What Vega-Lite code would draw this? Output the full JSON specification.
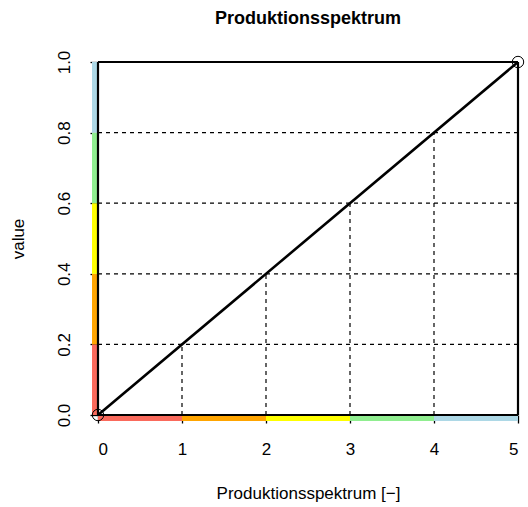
{
  "$schema": "https://vega.github.io/schema/vega-lite/v6.json",
  "width": 420,
  "height": 353,
  "autosize": {"type": "none"},
  "padding": {"left": 98, "top": 62, "right": 10, "bottom": 92},
  "background": "white",
  "config": {
    "view": {"stroke": null},
    "font": "Liberation Sans",
    "axis": {"grid": false, "domain": false, "tickColor": "black", "tickWidth": 1.3, "tickSize": 8, "labelColor": "black", "labelFont": "Liberation Sans", "labelFontSize": 17, "titleFont": "Liberation Sans", "titleFontSize": 17, "titleFontWeight": "normal", "titleColor": "black"}
  },
  "title": {"text": "Produktionsspektrum", "font": "Liberation Sans", "fontSize": 18, "fontWeight": "bold", "anchor": "middle", "offset": 22, "color": "black"},
  "datasets": {
    "leftSeg": [
      {"lo": 0, "hi": 0.2, "col": "#FA6A5C"},
      {"lo": 0.2, "hi": 0.4, "col": "#FFA500"},
      {"lo": 0.4, "hi": 0.6, "col": "#FFFF00"},
      {"lo": 0.6, "hi": 0.8, "col": "#90EE90"},
      {"lo": 0.8, "hi": 1.0, "col": "#ADD8E6"}
    ],
    "bottomSeg": [
      {"lo": 0, "hi": 1, "col": "#FA6A5C"},
      {"lo": 1, "hi": 2, "col": "#FFA500"},
      {"lo": 2, "hi": 3, "col": "#FFFF00"},
      {"lo": 3, "hi": 4, "col": "#90EE90"},
      {"lo": 4, "hi": 5, "col": "#ADD8E6"}
    ],
    "hdash": [
      {"y": 0.2, "x0": 0, "x1": 5},
      {"y": 0.4, "x0": 0, "x1": 5},
      {"y": 0.6, "x0": 0, "x1": 5},
      {"y": 0.8, "x0": 0, "x1": 5}
    ],
    "vdash": [
      {"x": 1, "y0": 0, "y1": 0.2},
      {"x": 2, "y0": 0, "y1": 0.4},
      {"x": 3, "y0": 0, "y1": 0.6},
      {"x": 4, "y0": 0, "y1": 0.8}
    ],
    "box": [
      {"x0": 0, "y0": 0, "x1": 5, "y1": 0},
      {"x0": 0, "y0": 0, "x1": 0, "y1": 1},
      {"x0": 0, "y0": 1, "x1": 5, "y1": 1},
      {"x0": 5, "y0": 0, "x1": 5, "y1": 1}
    ],
    "curve": [
      {"x": 0, "value": 0},
      {"x": 5, "value": 1}
    ]
  },
  "layer": [
    {
      "data": {"name": "leftSeg"},
      "mark": {"type": "rule", "strokeWidth": 6, "xOffset": -3},
      "encoding": {
        "x": {"datum": 0, "type": "quantitative", "scale": {"domain": [0, 5], "nice": false}, "axis": {"values": [0, 1, 2, 3, 4, 5], "format": "d", "title": "Produktionsspektrum [−]", "labelPadding": 18, "titlePadding": 28}},
        "y": {"field": "lo", "type": "quantitative", "scale": {"domain": [0, 1], "nice": false}, "axis": {"values": [0, 0.2, 0.4, 0.6, 0.8, 1.0], "format": ".1f", "title": "value", "labelAngle": -90, "labelAlign": "center", "labelBaseline": "bottom", "labelPadding": 17, "titlePadding": 28}},
        "y2": {"field": "hi"},
        "color": {"field": "col", "type": "nominal", "scale": null}
      }
    },
    {
      "data": {"name": "bottomSeg"},
      "mark": {"type": "rule", "strokeWidth": 6, "yOffset": 3},
      "encoding": {
        "x": {"field": "lo", "type": "quantitative"},
        "x2": {"field": "hi"},
        "y": {"datum": 0, "type": "quantitative"},
        "color": {"field": "col", "type": "nominal", "scale": null}
      }
    },
    {
      "data": {"name": "hdash"},
      "mark": {"type": "rule", "strokeWidth": 1.2, "strokeDash": [4, 4], "color": "black"},
      "encoding": {
        "x": {"field": "x0", "type": "quantitative"},
        "x2": {"field": "x1"},
        "y": {"field": "y", "type": "quantitative"}
      }
    },
    {
      "data": {"name": "vdash"},
      "mark": {"type": "rule", "strokeWidth": 1.2, "strokeDash": [4, 4], "color": "black"},
      "encoding": {
        "x": {"field": "x", "type": "quantitative"},
        "y": {"field": "y0", "type": "quantitative"},
        "y2": {"field": "y1"}
      }
    },
    {
      "data": {"name": "box"},
      "mark": {"type": "rule", "strokeWidth": 2.2, "color": "black"},
      "encoding": {
        "x": {"field": "x0", "type": "quantitative"},
        "x2": {"field": "x1"},
        "y": {"field": "y0", "type": "quantitative"},
        "y2": {"field": "y1"}
      }
    },
    {
      "data": {"name": "curve"},
      "mark": {"type": "line", "strokeWidth": 2.6, "color": "black"},
      "encoding": {
        "x": {"field": "x", "type": "quantitative"},
        "y": {"field": "value", "type": "quantitative"}
      }
    },
    {
      "data": {"name": "curve"},
      "mark": {"type": "point", "shape": "circle", "filled": false, "size": 130, "strokeWidth": 1, "color": "black", "opacity": 1},
      "encoding": {
        "x": {"field": "x", "type": "quantitative"},
        "y": {"field": "value", "type": "quantitative"}
      }
    }
  ]
}
